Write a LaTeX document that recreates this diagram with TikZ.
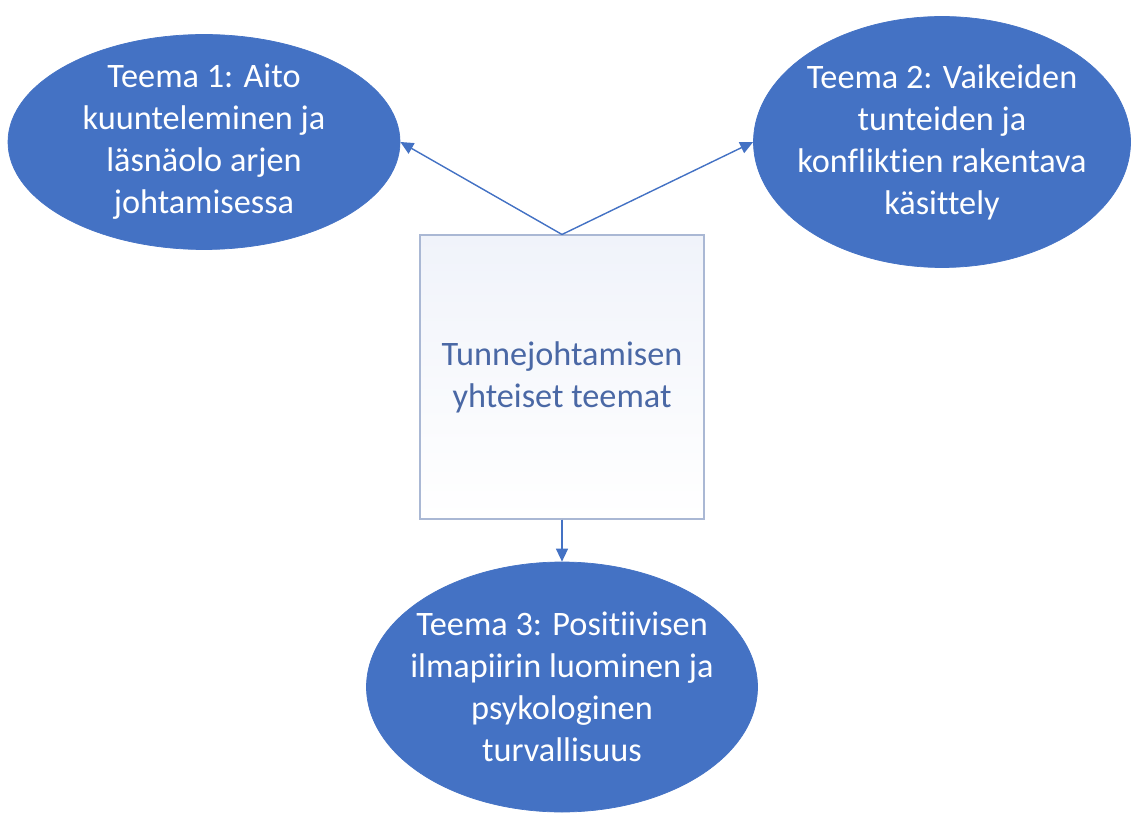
\documentclass[tikz,border=0pt]{standalone}
\usepackage{fontspec}
\setmainfont{Carlito}[RawFeature=-liga]
\usepackage{tikz}
\usetikzlibrary{arrows.meta,shapes.geometric}
\definecolor{themeblue}{RGB}{68,114,196}
\definecolor{boxline}{RGB}{170,184,212}
\definecolor{boxtext}{RGB}{74,104,165}
\definecolor{boxfill}{RGB}{240,243,250}

\begin{document}
\begin{tikzpicture}[
  theme/.style={ellipse, draw=themeblue, fill=themeblue, inner sep=0pt},
  themetext/.style={text=white, align=center, font=\fontsize{19.5}{23.9}\selectfont},
  centre/.style={draw=boxline, line width=0.6pt, top color=boxfill, bottom color=white,
    minimum width=5.68cm, minimum height=5.68cm, text=boxtext, align=center,
    font=\fontsize{19.5}{23.9}\selectfont},
  arr/.style={-{Triangle[length=0.26cm,width=0.24cm]}, draw=themeblue, fill=themeblue, line width=0.8pt}
]
\useasboundingbox (0,0) rectangle (22.64,16.36);

\node[centre] (core) at (11.24,8.82) {Tunnejohtamisen\\yhteiset teemat};

\node[theme, minimum width=7.84cm, minimum height=4.3cm,
  label={[themetext]center:Teema 1: Aito\\kuunteleminen ja\\läsnäolo arjen\\johtamisessa}]
  (t1) at (4.08,13.52) {};
\node[theme, minimum width=7.54cm, minimum height=5.02cm,
  label={[themetext]center:Teema 2: Vaikeiden\\tunteiden ja\\konfliktien rakentava\\käsittely}]
  (t2) at (18.84,13.52) {};
\node[theme, minimum width=7.82cm, minimum height=5.0cm,
  label={[themetext]center:Teema 3: Positiivisen\\ilmapiirin luominen ja\\psykologinen\\turvallisuus}]
  (t3) at (11.24,2.62) {};

\draw[arr] (core.north) -- (t1.east);
\draw[arr] (core.north) -- (t2.west);
\draw[arr] (core.south) -- (t3.north);
\end{tikzpicture}
\end{document}
